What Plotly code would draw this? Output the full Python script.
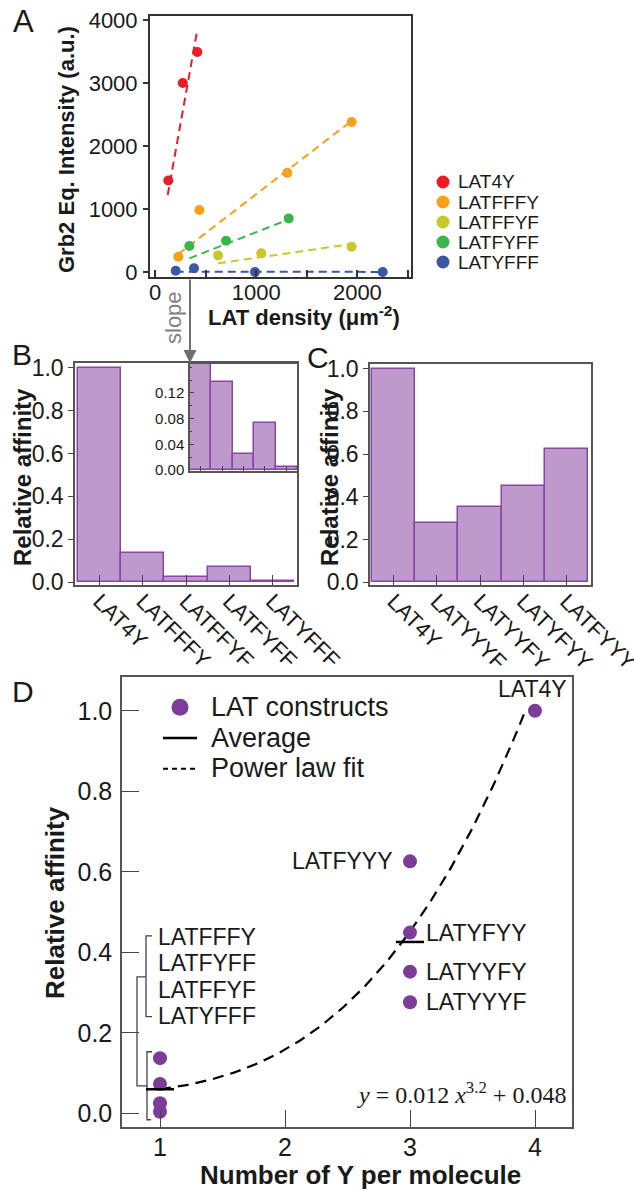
import numpy as np
import plotly.graph_objects as go

W, H = 634, 1191
FONT = "Liberation Sans, Arial, Helvetica, sans-serif"
SERIF = "Liberation Serif, Times New Roman, serif"
TXT = "#1a1a1a"

# ---------------- data ----------------
# Panel A : Grb2 equilibrium intensity vs LAT density
a_names = ["LAT4Y", "LATFFFY", "LATFFYF", "LATFYFF", "LATYFFF"]
a_colors = ["#ec1c24", "#f9a01b", "#c8c82a", "#3ab54a", "#3a56a5"]

dens_LAT4Y = [131, 274, 418]
int_LAT4Y = [1453, 3000, 3491]
dens_LATFFFY = [230, 438, 1307, 1943]
int_LATFFFY = [243, 983, 1574, 2382]
dens_LATFFYF = [623, 1050, 1943]
int_LATFFYF = [264, 296, 401]
dens_LATFYFF = [339, 702, 1321]
int_LATFYFF = [412, 496, 851]
dens_LATYFFF = [204, 385, 988, 2250]
int_LATYFFF = [21, 59, 0, 0]

# linear fit lines (end points)
fitx_LAT4Y = [125, 418]
fity_LAT4Y = [1220, 3846]
fitx_LATFFFY = [230, 1943]
fity_LATFFFY = [285, 2398]
fitx_LATFFYF = [623, 1943]
fity_LATFFYF = [138, 444]
fitx_LATFYFF = [339, 1321]
fity_LATFYFF = [217, 835]
fitx_LATYFFF = [204, 2250]
fity_LATYFFF = [6, 2]

a_xticks = [0, 500, 1000, 1500, 2000, 2500]
a_xticktext = ["0", "", "1000", "", "2000", ""]
a_yticks = [0, 1000, 2000, 3000, 4000]

# Panel B / C : relative affinity
constructs_B = ["LAT4Y", "LATFFFY", "LATFFYF", "LATFYFF", "LATYFFF"]
affinity_B = [1.0, 0.137, 0.025, 0.073, 0.004]
n_tyr_B = [4, 1, 1, 1, 1]

constructs_C = ["LAT4Y", "LATYYYF", "LATYYFY", "LATYFYY", "LATFYYY"]
affinity_C = [1.0, 0.276, 0.352, 0.449, 0.626]
n_tyr_C = [4, 3, 3, 3, 3]

inset_yticks = [0.0, 0.04, 0.08, 0.12]

# Panel D : power-law fit parameters (as printed on the chart)
fit_a, fit_b, fit_c = 0.012, 3.2, 0.048
fit_x_end = 3.93
d_xticks = [1, 2, 3, 4]
d_yticks = [0.0, 0.2, 0.4, 0.6, 0.8, 1.0]

# bracket drawing next to the single-Y constructs (data coords)
bracket_x = [0.936, 0.888, 0.888, 0.936, None,
             0.888, 0.816, 0.816, 0.896, None,
             0.936, 0.896, 0.896, 0.928]
bracket_y = [0.441, 0.441, 0.240, 0.240, None,
             0.339, 0.339, 0.068, 0.068, None,
             0.153, 0.153, -0.016, -0.016]

# ---------------- helpers ----------------
def dom_x(l, r):
    return [l / W, r / W]


def dom_y(t, b):
    return [1 - b / H, 1 - t / H]


def px(x):
    return x / W


def py(y):
    return 1 - y / H


BAR_FILL = "#bd9acb"
BAR_LINE = "#8b45a5"
PURPLE = "#7d3c98"

fig = go.Figure()

# ---------------- Panel A ----------------
series_A = [
    (dens_LAT4Y, int_LAT4Y, fitx_LAT4Y, fity_LAT4Y),
    (dens_LATFFFY, int_LATFFFY, fitx_LATFFFY, fity_LATFFFY),
    (dens_LATFFYF, int_LATFFYF, fitx_LATFFYF, fity_LATFFYF),
    (dens_LATFYFF, int_LATFYFF, fitx_LATFYFF, fity_LATFYFF),
    (dens_LATYFFF, int_LATYFFF, fitx_LATYFFF, fity_LATYFFF),
]
for (xs, ys, fx, fy), col, nm in zip(series_A, a_colors, a_names):
    fig.add_trace(go.Scatter(x=fx, y=fy, mode="lines", name=nm + " fit",
                             line=dict(color=col, width=2, dash="8px,5px"),
                             xaxis="x", yaxis="y", showlegend=False, hoverinfo="skip"))
    fig.add_trace(go.Scatter(x=xs, y=ys, mode="markers", name=nm,
                             marker=dict(color=col, size=10),
                             xaxis="x", yaxis="y", showlegend=False))

# legend A (markers on an invisible helper axis, one row per construct)
fig.add_trace(go.Scatter(x=[0.5] * len(a_names), y=list(range(len(a_names))),
                         mode="markers", marker=dict(color=a_colors, size=13),
                         xaxis="x6", yaxis="y6", showlegend=False, cliponaxis=False,
                         hoverinfo="skip"))

# ---------------- Panel B ----------------
fig.add_trace(go.Bar(x=constructs_B, y=affinity_B, width=1,
                     marker=dict(color=BAR_FILL, line=dict(color=BAR_LINE, width=1.5)),
                     xaxis="x2", yaxis="y2", showlegend=False))
# inset
fig.add_trace(go.Bar(x=constructs_B, y=affinity_B, width=1,
                     marker=dict(color=BAR_FILL, line=dict(color=BAR_LINE, width=1.5)),
                     xaxis="x3", yaxis="y3", showlegend=False))

# ---------------- Panel C ----------------
fig.add_trace(go.Bar(x=constructs_C, y=affinity_C, width=1,
                     marker=dict(color=BAR_FILL, line=dict(color=BAR_LINE, width=1.5)),
                     xaxis="x4", yaxis="y4", showlegend=False))

# ---------------- Panel D ----------------
xfit = np.linspace(1, fit_x_end, 120)
yfit = fit_a * xfit ** fit_b + fit_c
fig.add_trace(go.Scatter(x=xfit, y=yfit, mode="lines",
                         line=dict(color="black", width=2.2, dash="11px,7px"),
                         xaxis="x5", yaxis="y5", showlegend=False, hoverinfo="skip"))
fig.add_trace(go.Scatter(x=bracket_x, y=bracket_y, mode="lines",
                         line=dict(color="#444", width=1.3),
                         xaxis="x5", yaxis="y5", showlegend=False, hoverinfo="skip",
                         cliponaxis=False))

d_x = n_tyr_B + n_tyr_C[1:]
d_y = affinity_B + affinity_C[1:]
fig.add_trace(go.Scatter(x=d_x, y=d_y, mode="markers",
                         marker=dict(color=PURPLE, size=14),
                         xaxis="x5", yaxis="y5", showlegend=False, cliponaxis=False))

avg_x = [1, 3]
avg_y = [float(np.mean(affinity_B[1:])), float(np.mean(affinity_C[1:]))]
fig.add_trace(go.Scatter(x=avg_x, y=avg_y, mode="markers",
                         marker=dict(symbol="line-ew", size=20,
                                     line=dict(color="black", width=2.5)),
                         xaxis="x5", yaxis="y5", showlegend=False))

# legend D (helper axis: row 0 marker, row 1 solid line, row 2 dotted line)
fig.add_trace(go.Scatter(x=[0], y=[0], mode="markers",
                         marker=dict(color=PURPLE, size=17),
                         xaxis="x7", yaxis="y7", showlegend=False, cliponaxis=False,
                         hoverinfo="skip"))
fig.add_trace(go.Scatter(x=[-1, 1], y=[1, 1], mode="lines",
                         line=dict(color="black", width=2.5),
                         xaxis="x7", yaxis="y7", showlegend=False, cliponaxis=False,
                         hoverinfo="skip"))
fig.add_trace(go.Scatter(x=[-1, 1], y=[2, 2], mode="lines",
                         line=dict(color="black", width=2, dash="5px,4px"),
                         xaxis="x7", yaxis="y7", showlegend=False, cliponaxis=False,
                         hoverinfo="skip"))

# ---------------- layout ----------------
frame = dict(showline=True, mirror=True, showgrid=False, zeroline=False,
             automargin=False)
tickf = lambda s: dict(family=FONT, size=s, color=TXT)

layout = dict(
    template="none",
    width=W, height=H, autosize=False,
    margin=dict(l=0, r=0, t=0, b=0, pad=0, autoexpand=False),
    paper_bgcolor="white", plot_bgcolor="rgba(0,0,0,0)",
    font=dict(family=FONT, color=TXT),
    showlegend=False,
    bargap=0,
    # A
    xaxis=dict(domain=dom_x(150, 411), range=[-50, 2530], anchor="y",
               linecolor="#333", linewidth=2, ticks="inside", ticklen=7,
               tickcolor="#333", tickwidth=1.5,
               tickvals=a_xticks, ticktext=a_xticktext, tickfont=tickf(22),
               ticklabelstandoff=-5, **frame),
    yaxis=dict(domain=dom_y(16, 277), range=[-79, 4063], anchor="x",
               linecolor="#333", linewidth=2, ticks="outside", ticklen=5,
               tickcolor="#333", tickwidth=1.5,
               tickvals=a_yticks, tickfont=tickf(22), ticklabelstandoff=1, **frame),
    # B
    xaxis2=dict(domain=dom_x(75, 297), range=[-0.57, 4.57], anchor="y2",
                type="category", linecolor="#555", linewidth=1.5,
                ticks="inside", ticklen=10, tickcolor="#444", tickwidth=1.2,
                tickangle=45, tickfont=tickf(22), ticklabelstandoff=-7, **frame),
    yaxis2=dict(domain=dom_y(363, 585), range=[-0.013, 1.022], anchor="x2",
                linecolor="#555", linewidth=1.5, ticks="outside", ticklen=5,
                tickcolor="#444", tickvals=d_yticks, tickformat=".1f",
                tickfont=tickf(23), ticklabelstandoff=0, **frame),
    # inset
    xaxis3=dict(domain=dom_x(190, 297), range=[-0.5, 4.5], anchor="y3",
                type="category", linecolor="#555", linewidth=1.5,
                ticks="inside", ticklen=5, tickcolor="#444",
                showticklabels=False, **frame),
    yaxis3=dict(domain=dom_y(364, 471), range=[-0.0015, 0.165], anchor="x3",
                linecolor="#555", linewidth=1.5, ticks="inside", ticklen=4,
                tickcolor="#444", tickvals=inset_yticks, tickformat=".2f",
                tickfont=tickf(15), ticklabelstandoff=1,
                minor=dict(ticks="inside", ticklen=2, dtick=0.02, tickcolor="#444"),
                **frame),
    # C
    xaxis4=dict(domain=dom_x(370, 591), range=[-0.55, 4.57], anchor="y4",
                type="category", linecolor="#555", linewidth=1.5,
                ticks="inside", ticklen=10, tickcolor="#444", tickwidth=1.2,
                tickangle=45, tickfont=tickf(22), ticklabelstandoff=-7, **frame),
    yaxis4=dict(domain=dom_y(364, 585), range=[-0.013, 1.022], anchor="x4",
                linecolor="#555", linewidth=1.5, ticks="outside", ticklen=5,
                tickcolor="#444", tickvals=d_yticks, tickformat=".1f",
                tickfont=tickf(23), ticklabelstandoff=0, **frame),
    # D
    xaxis5=dict(domain=dom_x(122, 572), range=[0.696, 4.296], anchor="y5",
                linecolor="#555", linewidth=1.5, ticks="inside", ticklen=17,
                tickcolor="#444", tickwidth=1.3, tickvals=d_xticks,
                tickfont=tickf(25), ticklabelstandoff=-3, **frame),
    yaxis5=dict(domain=dom_y(677, 1127), range=[-0.034, 1.084], anchor="x5",
                linecolor="#555", linewidth=1.5, ticks="inside", ticklen=17,
                tickcolor="#444", tickwidth=1.3, tickvals=d_yticks, tickformat=".1f",
                tickfont=tickf(25), ticklabelstandoff=3, **frame),
    # legend helper axes
    xaxis6=dict(domain=dom_x(438, 448), range=[0, 1], anchor="y6", visible=False,
                automargin=False),
    yaxis6=dict(domain=dom_y(172, 272), range=[4.5, -0.5], anchor="x6", visible=False,
                automargin=False),
    xaxis7=dict(domain=dom_x(163, 197), range=[-1, 1], anchor="y7", visible=False,
                automargin=False),
    yaxis7=dict(domain=dom_y(692, 784), range=[2.5, -0.5], anchor="x7", visible=False,
                automargin=False),
)
fig.update_layout(**layout)

ann = []


def add_text(text, x, y, size, xanchor="center", yanchor="middle", angle=0,
             color=TXT, family=FONT, xref="paper", yref="paper"):
    ann.append(dict(text=text, x=x, y=y, xref=xref, yref=yref, showarrow=False,
                    xanchor=xanchor, yanchor=yanchor, textangle=angle,
                    font=dict(family=family, size=size, color=color)))


# panel letters
add_text("A", px(23), py(22), 31)
add_text("B", px(22), py(355), 30)
add_text("C", px(318), py(357), 30)
add_text("D", px(23), py(692), 30)

# axis titles
add_text("<b>Grb2 Eq. Intensity (a.u.)</b>", px(67), py(150), 22, angle=-90)
add_text("<b>LAT density (μm<sup>-2</sup>)</b>", px(304), py(316), 22)
add_text("<b>Relative affinity</b>", px(22), py(477), 24, angle=-90)
add_text("<b>Relative affinity</b>", px(329), py(477), 24, angle=-90)
add_text("<b>Relative affinity</b>", px(55), py(903), 26, angle=-90)
add_text("<b>Number of Y per molecule</b>", px(360), py(1175), 26)

# slope arrow
add_text("slope", px(174), py(318), 22, angle=-90, color="#808080")
ann.append(dict(text="", x=px(190), y=py(363), xref="paper", yref="paper",
                showarrow=True, ax=0, ay=-85, arrowhead=2, arrowsize=1.3,
                arrowwidth=2, arrowcolor="#6e6e6e"))

# legend A texts
for i, nm in enumerate(a_names):
    add_text(nm, px(456), py(182 + 20 * i), 19, xanchor="left")

# legend D texts
for i, nm in enumerate(["LAT constructs", "Average", "Power law fit"]):
    add_text(nm, px(209), py(707 + 30.7 * i), 27, xanchor="left")

# panel D point labels
group1 = sorted(zip(affinity_B[1:], constructs_B[1:]), reverse=True)
label_top, label_step = 0.4385, 0.0655
for i, (_, nm) in enumerate(group1):
    add_text(nm, 0.968, label_top - label_step * i, 23, xanchor="left",
             xref="x5", yref="y5")

for val, nm in zip(affinity_C[1:], constructs_C[1:]):
    if nm == "LATFYYY":
        add_text(nm, 2.88, val, 23, xanchor="right", xref="x5", yref="y5")
    else:
        add_text(nm, 3.11, val, 23, xanchor="left", xref="x5", yref="y5")
add_text("LAT4Y", 3.98, affinity_B[0] + 0.055, 23, xref="x5", yref="y5")

# equation
add_text("<i>y</i> = 0.012 <i>x</i><sup>3.2</sup> + 0.048", px(568), py(1093), 24,
         xanchor="right", family=SERIF)

fig.update_layout(annotations=ann)
fig.write_html("out.html")
